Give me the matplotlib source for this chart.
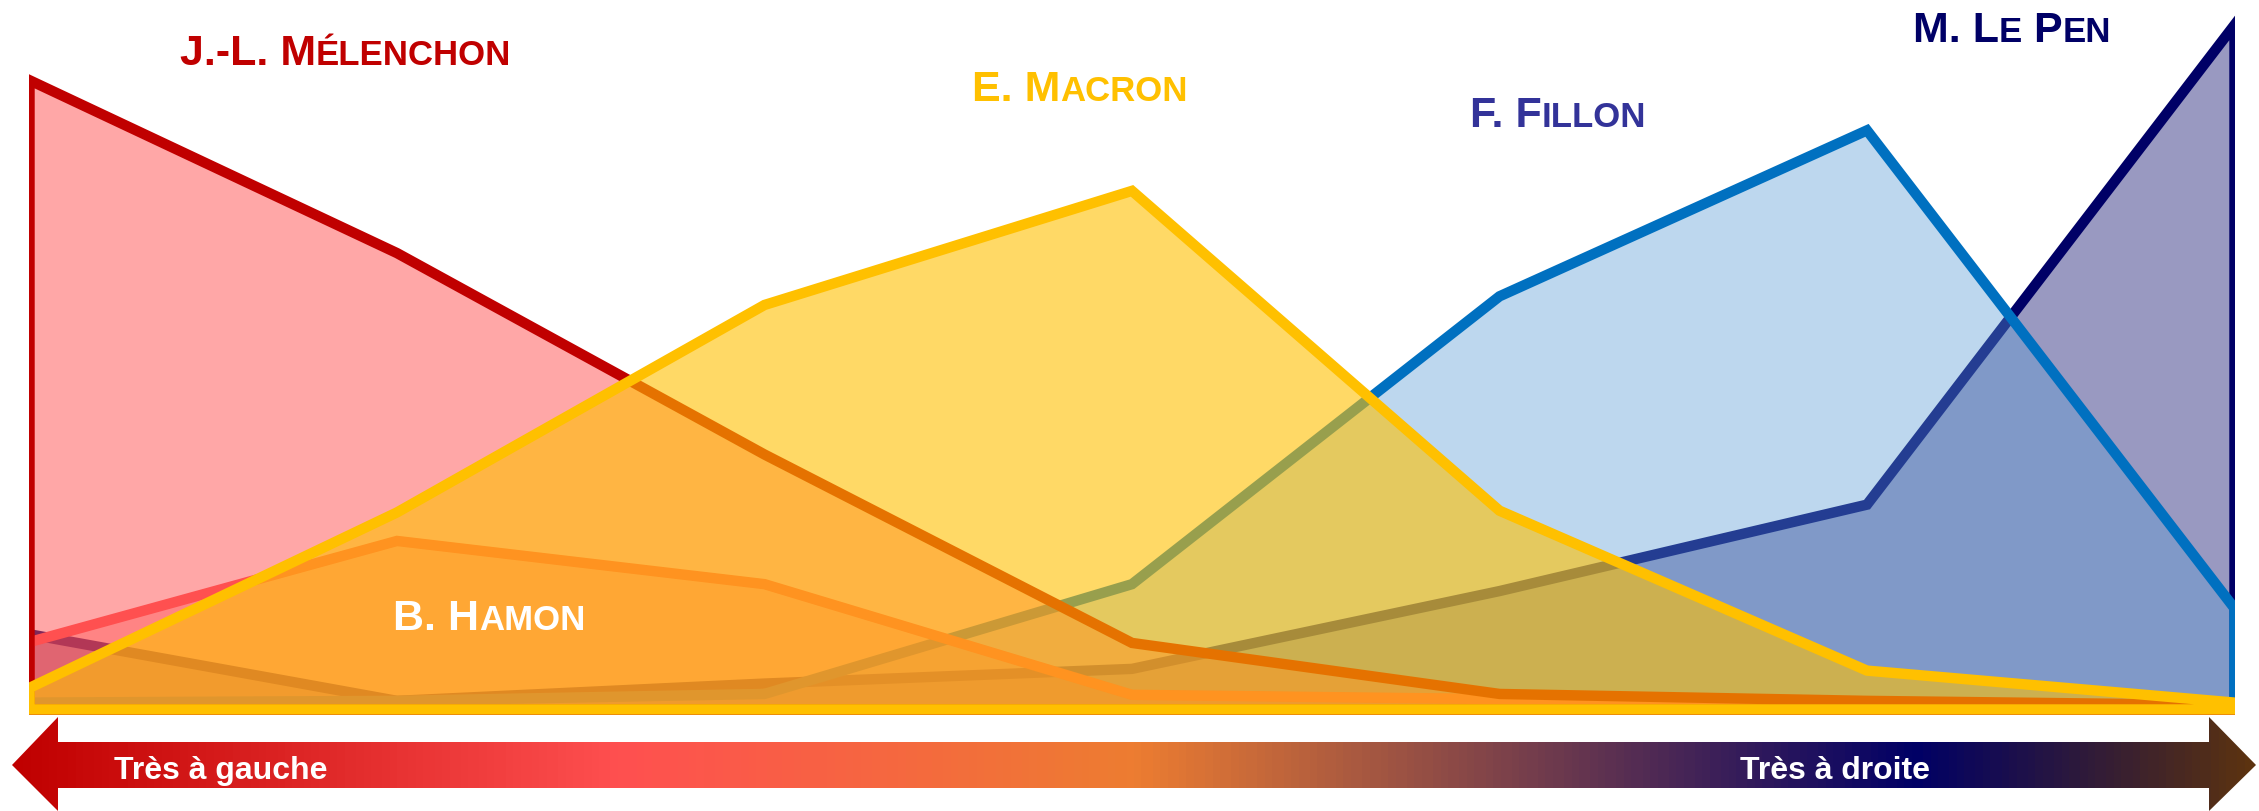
import numpy as np
import matplotlib
matplotlib.use("Agg")
import matplotlib.pyplot as plt
from matplotlib.colors import LinearSegmentedColormap, to_rgba
from matplotlib.patches import Polygon

plt.rcParams['font.family'] = ['Liberation Sans', 'DejaVu Sans']

# position sur l'axe gauche-droite (7 crans)
positions = [0, 1, 2, 3, 4, 5, 6]
melenchon = [72.8, 52.8, 29.5, 7.7, 1.8, 1.0, 0.5]
hamon = [7.8, 19.5, 14.5, 1.7, 1.2, 0.8, 0.3]
lepen = [8.7, 1.0, 3.0, 4.7, 13.7, 23.7, 79.2]
fillon = [0.8, 1.0, 1.8, 14.5, 47.8, 67.0, 11.7]
macron = [2.5, 22.8, 46.8, 60.0, 23.0, 4.5, 0.8]

W, H = 2259, 811
fig = plt.figure(figsize=(W / 100, H / 100), dpi=100)

# fleche degradee en bas (coordonnees pixels)
bg = fig.add_axes([0, 0, 1, 1])
bg.set_xlim(0, W)
bg.set_ylim(H, 0)
bg.axis('off')
fleche = [(12, 765), (58, 717), (58, 742), (2209, 742), (2209, 717), (2256, 765),
          (2209, 811), (2209, 788), (58, 788), (58, 811)]
poly = Polygon(fleche, closed=True, facecolor='none', edgecolor='none')
bg.add_patch(poly)
cmap = LinearSegmentedColormap.from_list('gd', [(0, '#C00000'), (0.27, '#FF5050'),
                                               (0.5, '#ED7D31'), (0.85, '#000066'),
                                               (1, '#5C3310')])
grad = np.linspace(0, 1, 600).reshape(1, -1)
im = bg.imshow(grad, cmap=cmap, extent=(12, 2256, 811, 717), aspect='auto')
im.set_clip_path(poly)
bg.text(114, 771, 'Très à gauche', color='white', fontsize=23, fontweight='bold', va='center')
bg.text(1740, 771, 'Très à droite', color='white', fontsize=23, fontweight='bold', va='center')

# graphique en aires (zero a y=709 px, 8.644 px par point)
ax = fig.add_axes([29 / W, 1 - 720 / H, (2234 - 29) / W, 720 / H])
ax.set_xlim(0, 6)
ax.set_ylim(-11 / 8.644, 709 / 8.644)
ax.axis('off')

series = [
    (lepen, '#000066', to_rgba('#000066', 0.4)),
    (fillon, '#0070C0', to_rgba('#5B9BD5', 0.4)),
    (hamon, '#FF5050', to_rgba('#FF5050', 0.4)),
    (melenchon, '#C00000', to_rgba('#FF5050', 0.5)),
    (macron, '#FFC000', to_rgba('#FFC000', 0.6)),
]
for vals, ligne, fond in series:
    ax.fill_between(positions, 0, vals, facecolor=fond, edgecolor=ligne,
                    linewidth=7.5, joinstyle='miter')

# etiquettes en petites capitales
r = fig.canvas.get_renderer()


def petites_caps(x, y, morceaux, couleur):
    for txt, grand in morceaux:
        t = fig.text(x / W, 1 - y / H, txt, fontsize=31 if grand else 25,
                     fontweight='bold', color=couleur, va='baseline', ha='left')
        x = t.get_window_extent(renderer=r).x1


petites_caps(180, 65, [('J.-L. M', True), ('ÉLENCHON', False)], '#C00000')
petites_caps(972, 101, [('E. M', True), ('ACRON', False)], '#FFC000')
petites_caps(1470, 127, [('F. F', True), ('ILLON', False)], '#333399')
petites_caps(1913, 42, [('M. L', True), ('E', False), (' P', True), ('EN', False)], '#000066')
petites_caps(393, 630, [('B. H', True), ('AMON', False)], 'white')

fig.savefig('out.png', dpi=100)
